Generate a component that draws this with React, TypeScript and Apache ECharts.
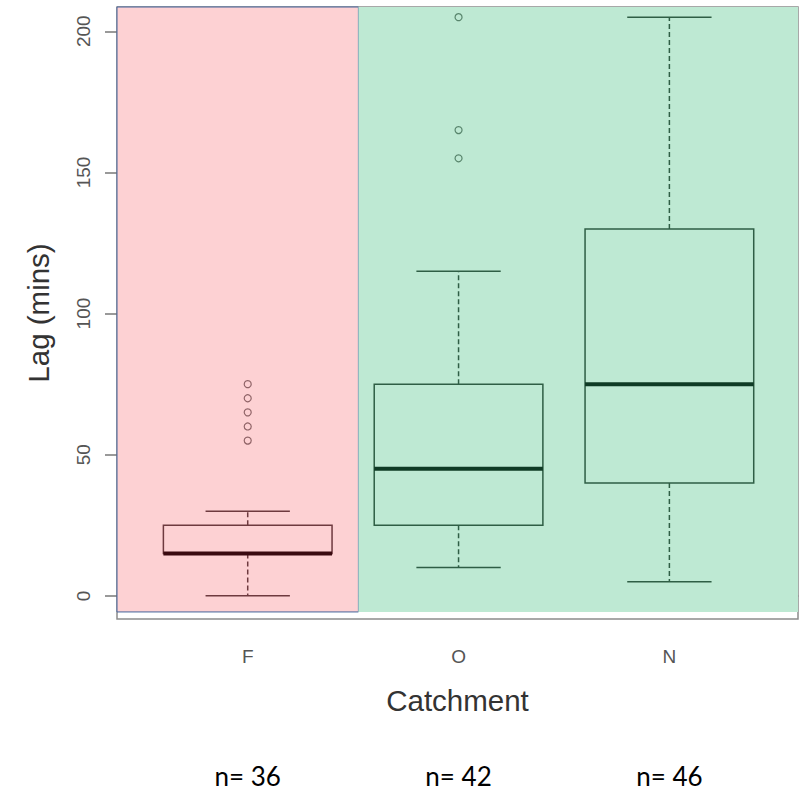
import React, { useEffect, useRef } from "react";
import * as echarts from "echarts";

// Lag (mins) by catchment: five-number summaries, outliers and sample sizes
const catchments = ["F", "O", "N"];
const lagMin = [0, 10, 5];
const lagQ1 = [15, 25, 40];
const lagMedian = [15, 45, 75];
const lagQ3 = [25, 75, 130];
const lagMax = [30, 115, 205];
const outliersF = [55, 60, 65, 70, 75];
const outliersO = [155, 165, 205];
const outliersN: number[] = [];
const sampleSizes = [36, 42, 46];
const yTicks = [0, 50, 100, 150, 200];

const X_MIN = 0.38;
const X_MAX = 3.61;
const Y_MIN = -8.2;
const Y_MAX = 208.6;
const ZONE_BREAK = 1.525;
const ZONE_BOTTOM = -5.7;

const FONT = "'Liberation Sans', Arial, sans-serif";

// stroke colours for the box drawn on the pink panel, then on the green panel
const inkFor = (i: number) =>
  i === 0
    ? { line: "#6e3a3f", median: "#3a0a10", point: "#74484c" }
    : { line: "#2f5e45", median: "#0f3b25", point: "#3f6c52" };

export default function App() {
  const ref = useRef<HTMLDivElement>(null);

  useEffect(() => {
    if (!ref.current) return;
    const chart = echarts.init(ref.current, null, { renderer: "svg" });

    const boxData = catchments.map((_, i) => [
      i + 1,
      lagMin[i],
      lagQ1[i],
      lagMedian[i],
      lagQ3[i],
      lagMax[i],
    ]);

    const outlierGroups = [outliersF, outliersO, outliersN];
    const outlierData: any[] = [];
    outlierGroups.forEach((vals, i) =>
      vals.forEach((v) =>
        outlierData.push({
          value: [i + 1, v],
          itemStyle: { color: "transparent", borderColor: inkFor(i).point, borderWidth: 1.2 },
        })
      )
    );

    const zoneData = [
      [X_MIN, ZONE_BREAK, 0],
      [ZONE_BREAK, X_MAX, 1],
    ];

    chart.setOption({
      animation: false,
      backgroundColor: "#ffffff",
      grid: {
        left: 117,
        right: 4,
        top: 7,
        bottom: 175,
        show: true,
        borderColor: "#8c8c8c",
        borderWidth: 1.5,
        backgroundColor: "transparent",
      },
      xAxis: [
        {
          type: "value",
          min: X_MIN,
          max: X_MAX,
          name: "Catchment",
          nameLocation: "middle",
          nameGap: 67,
          nameTextStyle: { fontSize: 29.5, color: "#333", fontFamily: FONT, lineHeight: 29 },
          axisLine: { show: true, lineStyle: { color: "#8c8c8c", width: 1.5 } },
          axisTick: {
            show: true,
            length: 12,
            customValues: [1, 2, 3],
            lineStyle: { color: "#777", width: 1.5 },
          },
          axisLabel: {
            customValues: [1, 2, 3],
            margin: 28,
            fontSize: 19,
            lineHeight: 19,
            color: "#555",
            fontFamily: FONT,
            formatter: (v: number) => catchments[Math.round(v) - 1] ?? "",
          },
          splitLine: { show: false },
        },
        {
          type: "value",
          min: X_MIN,
          max: X_MAX,
          position: "bottom",
          offset: 140,
          axisLine: { show: false },
          axisTick: { show: false },
          axisLabel: {
            customValues: [1, 2, 3],
            margin: 7,
            fontSize: 26,
            lineHeight: 20,
            color: "#000",
            fontFamily: "Lato, 'Open Sans', sans-serif",
            formatter: (v: number) => "n= " + sampleSizes[Math.round(v) - 1],
          },
          splitLine: { show: false },
        },
      ],
      yAxis: {
        type: "value",
        min: Y_MIN,
        max: Y_MAX,
        name: "Lag (mins)",
        nameLocation: "middle",
        nameRotate: 90,
        nameGap: 64,
        nameTextStyle: { fontSize: 29.5, color: "#333", fontFamily: FONT, lineHeight: 29 },
        axisLine: { show: false },
        axisTick: {
          show: true,
          length: 12,
          customValues: yTicks,
          lineStyle: { color: "#777", width: 1.5 },
        },
        axisLabel: {
          customValues: yTicks,
          rotate: 90,
          margin: 24,
          fontSize: 19,
          lineHeight: 19,
          color: "#555",
          fontFamily: FONT,
        },
        splitLine: { show: false },
      },
      series: [
        {
          type: "custom",
          name: "zones",
          z: 1,
          silent: true,
          data: zoneData,
          renderItem: (params: any, api: any) => {
            const [x0, yTop] = api.coord([api.value(0), Y_MAX]);
            const [x1, yBot] = api.coord([api.value(1), ZONE_BOTTOM]);
            const pink = api.value(2) === 0;
            return {
              type: "rect",
              shape: { x: x0, y: yTop, width: x1 - x0, height: yBot - yTop },
              style: pink
                ? { fill: "#fdd1d3", stroke: "#44649c", lineWidth: 1 }
                : { fill: "#bee9d3" },
            };
          },
        },
        {
          type: "custom",
          name: "Lag",
          z: 3,
          data: boxData,
          renderItem: (params: any, api: any) => {
            const x = api.value(0);
            const [cx, yLo] = api.coord([x, api.value(1)]);
            const [, yQ1] = api.coord([x, api.value(2)]);
            const [, yMed] = api.coord([x, api.value(3)]);
            const [, yQ3] = api.coord([x, api.value(4)]);
            const [, yHi] = api.coord([x, api.value(5)]);
            const half = api.size([0.8, 0])[0] / 2;
            const capHalf = half / 2;
            const ink = inkFor(params.dataIndex);
            const whisker = { stroke: ink.line, lineWidth: 1.5, lineDash: [5, 3] };
            const solid = { stroke: ink.line, lineWidth: 1.5 };
            return {
              type: "group",
              children: [
                { type: "line", shape: { x1: cx, y1: yQ3, x2: cx, y2: yHi }, style: whisker },
                { type: "line", shape: { x1: cx, y1: yQ1, x2: cx, y2: yLo }, style: whisker },
                { type: "line", shape: { x1: cx - capHalf, y1: yHi, x2: cx + capHalf, y2: yHi }, style: solid },
                { type: "line", shape: { x1: cx - capHalf, y1: yLo, x2: cx + capHalf, y2: yLo }, style: solid },
                {
                  type: "rect",
                  shape: { x: cx - half, y: yQ3, width: half * 2, height: yQ1 - yQ3 },
                  style: { fill: "none", stroke: ink.line, lineWidth: 1.5 },
                },
                {
                  type: "line",
                  shape: { x1: cx - half, y1: yMed, x2: cx + half, y2: yMed },
                  style: { stroke: ink.median, lineWidth: 4 },
                },
              ],
            };
          },
        },
        {
          type: "scatter",
          name: "Outliers",
          z: 4,
          symbol: "circle",
          symbolSize: 7,
          data: outlierData,
        },
      ],
    });

    return () => chart.dispose();
  }, []);

  return (
    <div
      ref={ref}
      style={{ position: "fixed", left: 0, top: 0, width: 802, height: 794, background: "#fff" }}
    />
  );
}
